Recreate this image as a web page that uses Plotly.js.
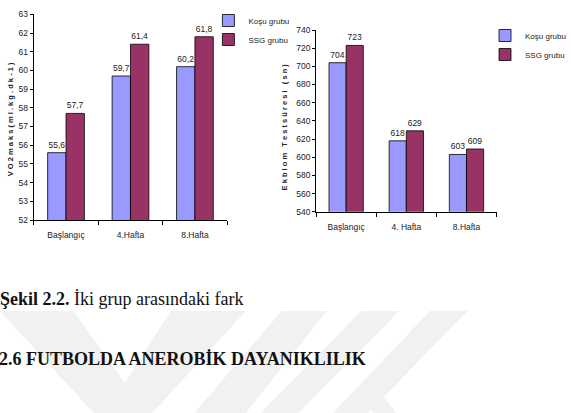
<!DOCTYPE html>
<html>
<head>
<meta charset="utf-8">
<script src="https://cdn.plot.ly/plotly-3.0.1.min.js"></script>
<style>html,body{margin:0;padding:0;background:#fff;}#chart{width:571px;height:413px;}</style>
</head>
<body>
<div id="chart"></div>
<script>
// ---- data ----
const categoriesLeft = ['Başlangıç', '4.Hafta', '8.Hafta'];
const categoriesRight = ['Başlangıç', '4. Hafta', '8.Hafta'];
const seriesNames = ['Koşu grubu', 'SSG grubu'];
const vo2Kosu = [55.6, 59.7, 60.2];
const vo2SSG = [57.7, 61.4, 61.8];
const ekblomKosu = [704, 618, 603];
const ekblomSSG = [723, 629, 609];
const vo2Range = [52, 63];
const ekblomRange = [540, 740];
const leftTitle = 'V O 2 m a k s ( m l . k g . d k - 1 )';
const rightTitle = 'E k b l o m   T e s t s ü r e s i   ( s n )';
const captionText = '<b>Şekil 2.2.</b> İki grup arasındaki fark';
const headingText = '<b>2.6 FUTBOLDA ANEROBİK DAYANIKLILIK</b>';

// ---- styles ----
const W = 571, H = 413;
const colKosu = '#9999FF', colSSG = '#993366';
const sans = '"Liberation Sans", Arial, sans-serif';
const serif = '"Liberation Serif", "Times New Roman", serif';
const px = (x) => x / W;
const py = (y) => 1 - y / H;

function bar(x, y, name, color, xa, ya, legend, tmpl) {
  return {
    type: 'bar', x: x, y: y, name: name, xaxis: xa, yaxis: ya, legend: legend,
    marker: {color: color, line: {color: '#000', width: 0.8}},
    text: y, texttemplate: tmpl, textposition: 'outside', cliponaxis: false,
    textfont: {family: sans, size: 8.5, color: '#222'},
    hoverinfo: 'skip'
  };
}

const data = [
  bar(categoriesLeft, vo2Kosu, seriesNames[0], colKosu, 'x', 'y', 'legend', '%{y:.1f}'),
  bar(categoriesLeft, vo2SSG, seriesNames[1], colSSG, 'x', 'y', 'legend', '%{y:.1f}'),
  bar(categoriesRight, ekblomKosu, seriesNames[0], colKosu, 'x2', 'y2', 'legend2', '%{y}'),
  bar(categoriesRight, ekblomSSG, seriesNames[1], colSSG, 'x2', 'y2', 'legend2', '%{y}')
];

function xax(domain, anchor) {
  return {
    domain: domain, anchor: anchor, type: 'category',
    showline: true, linecolor: '#000', linewidth: 1,
    ticks: 'outside', ticklen: 4, tickcolor: '#000', tickson: 'boundaries',
    tickfont: {family: sans, size: 8.5, color: '#222'},
    ticklabelstandoff: 7,
    showgrid: false, zeroline: false, fixedrange: true, automargin: false
  };
}
function yax(domain, anchor, range, dtick) {
  return {
    domain: domain, anchor: anchor, range: range, dtick: dtick,
    showline: true, linecolor: '#000', linewidth: 1,
    ticks: 'outside', ticklen: 3, tickcolor: '#000',
    tickfont: {family: sans, size: 8.5, color: '#222'},
    showgrid: false, zeroline: false, fixedrange: true, automargin: false
  };
}

function poly(pts) {
  return 'M' + pts.map(p => px(p[0]) + ',' + py(p[1])).join('L') + 'Z';
}
const wm = [
  [[0,311],[78,311],[133,383],[182,311],[262,311],[162,413],[100,413]],
  [[300,311],[348,311],[262,413],[207,413]],
  [[385,311],[425,311],[318,413],[278,413]],
  [[458,311],[498,311],[392,413],[355,413]],
  [[378,388],[402,388],[422,413],[398,413]]
];
const shapes = wm.map(p => ({
  type: 'path', xref: 'paper', yref: 'paper', path: poly(p),
  fillcolor: '#f1f1f1', line: {width: 0}, layer: 'below'
}));

const titleFont = {family: sans, size: 7.5, color: '#222'};
const layout = {
  width: W, height: H,
  margin: {l: 0, r: 0, t: 0, b: 0, pad: 0},
  paper_bgcolor: '#fff', plot_bgcolor: 'rgba(0,0,0,0)',
  separators: ',.',
  barmode: 'group', bargap: 0.43, bargroupgap: 0,
  showlegend: true,
  xaxis: xax([px(36), px(242)], 'y'),
  yaxis: yax([py(220), py(14.3)], 'x', vo2Range, 1),
  xaxis2: xax([px(336.7), px(529)], 'y2'),
  yaxis2: yax([py(211.7), py(30)], 'x2', ekblomRange, 20),
  legend: {x: px(222), y: py(6), xanchor: 'left', yanchor: 'top', bgcolor: 'rgba(0,0,0,0)',
           font: {family: sans, size: 8, color: '#222'}, itemclick: false},
  legend2: {x: px(517), y: py(21), xanchor: 'left', yanchor: 'top', bgcolor: 'rgba(0,0,0,0)',
           font: {family: sans, size: 8, color: '#222'}, itemclick: false},
  shapes: shapes,
  annotations: [
    {xref: 'paper', yref: 'paper', x: px(11), y: py(119), xanchor: 'center', yanchor: 'middle',
     textangle: -90, text: '<b>' + leftTitle + '</b>', showarrow: false, font: titleFont},
    {xref: 'paper', yref: 'paper', x: px(303), y: py(127), xanchor: 'center', yanchor: 'middle',
     textangle: -90, text: '<b>' + rightTitle + '</b>', showarrow: false, font: titleFont},
    {xref: 'paper', yref: 'paper', x: px(-2), y: py(299), xanchor: 'left', yanchor: 'middle',
     text: captionText, showarrow: false, font: {family: serif, size: 18, color: '#111'}},
    {xref: 'paper', yref: 'paper', x: px(-3), y: py(359), xanchor: 'left', yanchor: 'middle',
     text: headingText, showarrow: false, font: {family: serif, size: 18, color: '#111'}}
  ]
};

Plotly.newPlot('chart', data, layout, {displayModeBar: false, staticPlot: true});
</script>
</body>
</html>
